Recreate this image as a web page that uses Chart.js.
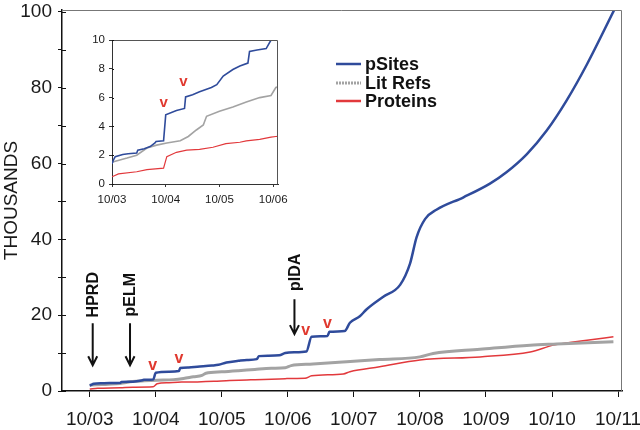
<!DOCTYPE html>
<html>
<head>
<meta charset="utf-8">
<script src="https://cdn.jsdelivr.net/npm/chart.js@4.4.1/dist/chart.umd.min.js"></script>
<style>
  body { margin: 0; background: #fff; }
  #wrap { position: relative; width: 640px; height: 430px; }
  #inset { position: absolute; left: 60px; top: 28px; }
</style>
</head>
<body>
<div id="wrap">
  <canvas id="main" width="640" height="430"></canvas>
  <canvas id="inset" width="230" height="190"></canvas>
</div>
<script>
// years since 10/03, values in thousands
const yearLabels = ['10/03', '10/04', '10/05', '10/06', '10/07', '10/08', '10/09', '10/10', '10/11'];

const pSitesX = [0, 0.03, 0.06, 0.2, 0.3, 0.46, 0.48, 0.6, 0.71, 0.8, 0.82, 0.96, 1.0, 1.2, 1.35, 1.37, 1.5, 1.63, 1.85, 1.95, 2.07, 2.25, 2.38, 2.53, 2.56, 2.7, 2.87, 2.96, 3.1, 3.28, 3.36, 3.6, 3.63, 3.86, 3.94, 4.09, 4.19, 4.44, 4.7, 4.85, 4.95, 5.08, 5.25, 5.66, 6.06, 6.31, 6.62, 6.92, 7.22, 7.53, 7.95];
const pSitesY = [1.4, 1.7, 1.9, 2.05, 2.1, 2.15, 2.35, 2.45, 2.6, 2.85, 2.95, 3.0, 4.8, 5.1, 5.25, 6.05, 6.2, 6.4, 6.7, 6.9, 7.5, 7.95, 8.2, 8.4, 9.2, 9.3, 9.4, 10.0, 10.2, 10.4, 14.3, 14.5, 15.6, 15.8, 18.0, 19.7, 21.5, 24.8, 28.0, 33.6, 40.6, 45.4, 47.8, 51.1, 54.7, 57.7, 62.5, 68.7, 76.6, 86.2, 100.8];

const litRefsX = [0, 0.03, 0.28, 0.46, 0.65, 0.83, 1.02, 1.27, 1.42, 1.57, 1.7, 1.76, 2.0, 2.25, 2.5, 2.75, 2.96, 3.05, 3.38, 3.89, 4.39, 5.0, 5.2, 5.91, 6.67, 7.07, 7.93];
const litRefsY = [1.5, 1.55, 1.8, 2.0, 2.5, 2.7, 2.85, 3.0, 3.3, 3.75, 4.1, 4.7, 5.05, 5.35, 5.7, 6.0, 6.15, 6.7, 7.1, 7.7, 8.3, 9.0, 9.9, 11.0, 12.1, 12.4, 13.0];

const proteinsX = [0, 0.12, 0.46, 0.65, 0.96, 1.02, 1.2, 1.39, 1.63, 1.88, 2.12, 2.38, 2.5, 2.75, 2.96, 3.05, 3.26, 3.36, 3.84, 3.94, 4.39, 5.0, 5.91, 6.67, 7.02, 7.53, 7.93];
const proteinsY = [0.5, 0.7, 0.85, 1.0, 1.1, 1.9, 2.2, 2.35, 2.4, 2.55, 2.8, 2.9, 3.0, 3.1, 3.25, 3.3, 3.35, 4.0, 4.5, 5.1, 6.4, 8.2, 9.0, 10.3, 12.1, 13.4, 14.3];

// red "v" marks (main chart and inset), in data units
const mainMarkX = [0.955, 1.35, 3.27, 3.6];
const mainMarkY = [6.6, 8.4, 16.0, 17.8];
const insetMarkX = [0.96, 1.33];
const insetMarkY = [5.65, 7.05];

// database launches: label, date, text centre, arrow top, arrow tip
const releaseNames = ['HPRD', 'pELM', 'pIDA'];
const releaseX = [0.045, 0.61, 3.1];
const releaseTextY = [25.4, 25.4, 31.3];
const releaseTopY = [17.9, 17.9, 24.2];
const releaseTipY = [6.8, 6.8, 15.0];

const FONT = "'Liberation Sans', Arial, Helvetica, sans-serif";
const BLUE = '#2f4b9b', GREY = '#a3a3a3', RED = '#e2393c';

function pts(xs, ys) {
    return xs.map((x, i) => ({ x: x, y: ys[i] }));
}

function makeDatasets(widths, mode) {
    return [
        { label: 'pSites', data: pts(pSitesX, pSitesY), borderColor: BLUE, borderWidth: widths[0], cubicInterpolationMode: mode },
        { label: 'Lit Refs', data: pts(litRefsX, litRefsY), borderColor: GREY, borderWidth: widths[1], cubicInterpolationMode: mode },
        { label: 'Proteins', data: pts(proteinsX, proteinsY), borderColor: RED, borderWidth: widths[2], cubicInterpolationMode: mode }
    ];
}

// keep the plot area where it is, labels may hang over the edges
function noPadX(s, h) { s.height = h; s.paddingLeft = 0; s.paddingRight = 0; }
function noPadY(s, w) { s.width = w; s.paddingTop = 0; s.paddingBottom = 0; }

function drawMarks(chart, xs, ys, size) {
    const ctx = chart.ctx, sx = chart.scales.x, sy = chart.scales.y;
    ctx.save();
    ctx.fillStyle = '#e0392f';
    ctx.font = 'bold ' + size + 'px ' + FONT;
    ctx.textAlign = 'center';
    ctx.textBaseline = 'alphabetic';
    xs.forEach((xv, i) => {
        ctx.fillText('v', sx.getPixelForValue(xv), sy.getPixelForValue(ys[i]) + size * 0.26);
    });
    ctx.restore();
}

function drawFrame(chart, color) {
    const ctx = chart.ctx, a = chart.chartArea;
    ctx.save();
    ctx.strokeStyle = color;
    ctx.lineWidth = 1;
    ctx.beginPath();
    ctx.moveTo(a.left, a.top + 0.5);
    ctx.lineTo(a.right - 0.5, a.top + 0.5);
    ctx.lineTo(a.right - 0.5, a.bottom);
    ctx.stroke();
    ctx.restore();
}

// y ticks that cross the axis line
function drawInnerTicks(chart, len) {
    const ctx = chart.ctx, sy = chart.scales.y, a = chart.chartArea;
    ctx.save();
    ctx.strokeStyle = '#111';
    ctx.lineWidth = 1;
    ctx.beginPath();
    sy.ticks.forEach(t => {
        const py = Math.round(sy.getPixelForValue(t.value)) + 0.5;
        ctx.moveTo(a.left, py);
        ctx.lineTo(a.left + len, py);
    });
    ctx.stroke();
    ctx.restore();
}

const mainExtras = {
    id: 'mainExtras',
    afterDraw(chart) {
        const ctx = chart.ctx, sx = chart.scales.x, sy = chart.scales.y;
        drawFrame(chart, '#777');
        drawInnerTicks(chart, 4);
        drawMarks(chart, mainMarkX, mainMarkY, 16);

        // release arrows
        ctx.save();
        ctx.fillStyle = '#111';
        ctx.strokeStyle = '#111';
        ctx.lineWidth = 2;
        ctx.font = 'bold 16px ' + FONT;
        releaseNames.forEach((name, i) => {
            const px = sx.getPixelForValue(releaseX[i]);
            ctx.save();
            ctx.translate(px, sy.getPixelForValue(releaseTextY[i]));
            ctx.rotate(-Math.PI / 2);
            ctx.textAlign = 'center';
            ctx.textBaseline = 'middle';
            ctx.fillText(name, 0, 1);
            ctx.restore();
            const top = sy.getPixelForValue(releaseTopY[i]);
            const tip = sy.getPixelForValue(releaseTipY[i]);
            ctx.beginPath();
            ctx.moveTo(px, top);
            ctx.lineTo(px, tip);
            ctx.moveTo(px - 4.5, tip - 9);
            ctx.lineTo(px, tip);
            ctx.lineTo(px + 4.5, tip - 9);
            ctx.stroke();
        });
        ctx.restore();

        // legend
        ctx.save();
        ctx.font = 'bold 18px ' + FONT;
        ctx.textBaseline = 'middle';
        ctx.fillStyle = '#111';
        const rows = [64, 83, 101];
        chart.data.datasets.forEach((ds, i) => {
            ctx.strokeStyle = ds.borderColor;
            ctx.lineWidth = i === 1 ? 3 : 2.5;
            if (i === 1) ctx.setLineDash([2, 1]); else ctx.setLineDash([]);
            ctx.beginPath();
            ctx.moveTo(336, rows[i]);
            ctx.lineTo(361, rows[i]);
            ctx.stroke();
            ctx.fillText(ds.label, 365, rows[i] + 1);
        });
        ctx.restore();
    }
};

const insetExtras = {
    id: 'insetExtras',
    afterDraw(chart) {
        drawFrame(chart, '#555');
        drawInnerTicks(chart, 2);
        drawMarks(chart, insetMarkX, insetMarkY, 15);
    }
};

Chart.defaults.font.family = FONT;
Chart.defaults.color = '#1a1a1a';

new Chart(document.getElementById('main'), {
    type: 'line',
    data: { datasets: makeDatasets([2.5, 3, 1.5], 'monotone') },
    options: {
        responsive: false,
        animation: false,
        devicePixelRatio: 1,
        layout: { padding: { top: 10, right: 18, left: 0, bottom: 0 } },
        elements: { point: { radius: 0 }, line: { borderJoinStyle: 'round' } },
        plugins: { legend: { display: false }, tooltip: { enabled: false } },
        scales: {
            x: {
                type: 'linear',
                min: -0.42,
                max: 8.06,
                afterFit: s => noPadX(s, 39),
                afterBuildTicks: s => { s.ticks = yearLabels.map((_, i) => ({ value: i })); },
                ticks: {
                    font: { size: 19 },
                    padding: 11,
                    maxRotation: 0,
                    callback: v => yearLabels[v]
                },
                grid: { drawOnChartArea: false, tickLength: 6, color: '#111' },
                border: { color: '#111', width: 1.5 }
            },
            y: {
                min: 0,
                max: 100.5,
                afterFit: s => noPadY(s, 62),
                ticks: {
                    stepSize: 5,
                    includeBounds: false,
                    font: { size: 19 },
                    padding: 6,
                    callback: v => (v % 20 === 0 ? v : '')
                },
                title: { display: true, text: 'THOUSANDS', font: { size: 19 }, padding: 0 },
                grid: { drawOnChartArea: false, tickLength: 4, color: '#111' },
                border: { color: '#111', width: 1.5 }
            }
        }
    },
    plugins: [mainExtras]
});

new Chart(document.getElementById('inset'), {
    type: 'line',
    data: { datasets: makeDatasets([1.6, 1.6, 1.2], 'default') },
    options: {
        responsive: false,
        animation: false,
        devicePixelRatio: 1,
        layout: { padding: { top: 12, right: 12, left: 0, bottom: 0 } },
        elements: { point: { radius: 0 }, line: { tension: 0 } },
        plugins: { legend: { display: false }, tooltip: { enabled: false } },
        scales: {
            x: {
                type: 'linear',
                min: 0,
                max: 3.09,
                afterFit: s => noPadX(s, 34),
                afterBuildTicks: s => { s.ticks = yearLabels.slice(0, 4).map((_, i) => ({ value: i })); },
                ticks: { font: { size: 11.5 }, padding: 6, maxRotation: 0, callback: v => yearLabels[v] },
                grid: { drawOnChartArea: false, tickLength: 3, color: '#333' },
                border: { color: '#333', width: 1 }
            },
            y: {
                min: 0,
                max: 10,
                afterFit: s => noPadY(s, 52),
                ticks: {
                    stepSize: 1,
                    font: { size: 11.5 },
                    padding: 4,
                    callback: v => (v % 2 === 0 ? v : '')
                },
                grid: { drawOnChartArea: false, tickLength: 3, color: '#333' },
                border: { color: '#333', width: 1 }
            }
        }
    },
    plugins: [insetExtras]
});
</script>
</body>
</html>
